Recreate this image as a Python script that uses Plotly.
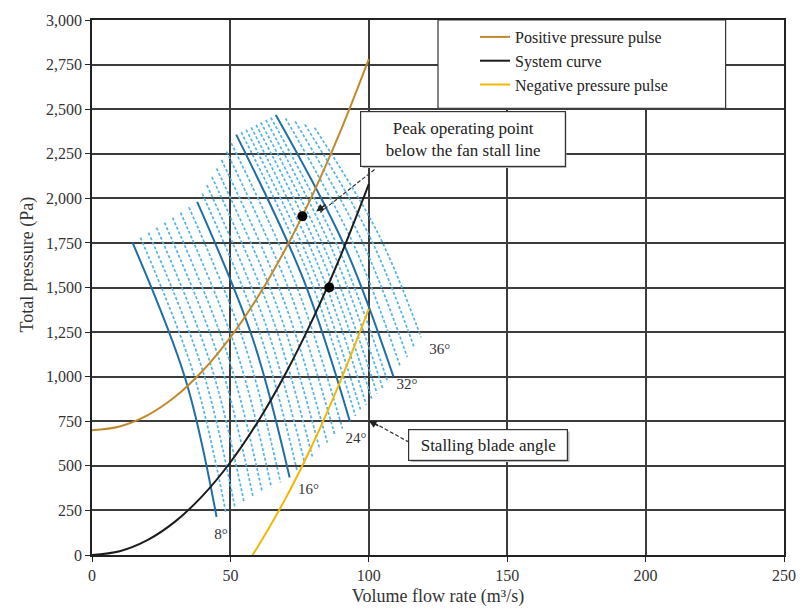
import plotly.graph_objects as go

# Volume flow rate (m³/s) and total pressure (Pa) along the three duct curves
flow_q = [0, 10, 20, 30, 40, 50, 60, 70, 80, 90, 100]
system_p = [0, 21, 83, 187, 333, 520, 749, 1019, 1331, 1685, 2080]
positive_p = [700, 721, 783, 887, 1033, 1220, 1449, 1719, 2031, 2385, 2780]
negative_q = [58, 60, 70, 80, 90, 100]
negative_p = [0, 49, 319, 631, 985, 1380]

# Operating points marked on the curves
point_q = [76.0, 85.7]
point_p = [1900, 1500]

# Fan characteristic per blade angle: stall-line end, middle, lower end
blade_angle = list(range(8, 37))
top_q = [14.6, 17.5, 20.4, 23.3, 26.2, 29.1, 32.0, 35.0, 38.0,
         39.8, 41.5, 43.3, 45.0, 46.8, 48.6, 50.3, 52.1,
         53.9, 55.7, 57.5, 59.3, 61.0, 62.8, 64.6, 66.4,
         69.9, 73.4, 76.9, 80.4]
top_p = [1753, 1780, 1808, 1836, 1864, 1892, 1920, 1950, 1980,
         2027, 2074, 2121, 2168, 2215, 2262, 2310, 2357,
         2371, 2385, 2398, 2412, 2426, 2440, 2453, 2467,
         2449, 2431, 2414, 2396]
mid_q = [33.8, 36.8, 39.9, 42.9, 46.0, 49.0, 52.1, 55.2, 58.2,
         60.5, 62.7, 65.0, 67.2, 69.4, 71.7, 73.9, 76.2,
         78.1, 79.9, 81.8, 83.7, 85.5, 87.4, 89.3, 91.2,
         94.2, 97.2, 100.2, 103.2]
mid_p = [984, 1011, 1039, 1067, 1094, 1122, 1150, 1179, 1207,
         1250, 1294, 1337, 1380, 1423, 1466, 1509, 1552,
         1575, 1598, 1620, 1643, 1666, 1689, 1711, 1734,
         1752, 1771, 1790, 1808]
bot_q = [45.0, 48.3, 51.6, 54.9, 58.2, 61.5, 64.8, 68.1, 71.4,
         74.1, 76.9, 79.6, 82.3, 85.0, 87.8, 90.5, 93.2,
         95.2, 97.1, 99.1, 101.1, 103.0, 105.0, 106.9, 108.9,
         111.4, 113.9, 116.4, 118.9]
bot_p = [214, 242, 269, 297, 324, 352, 379, 407, 434,
         473, 513, 552, 591, 630, 669, 708, 747,
         779, 810, 842, 874, 905, 937, 968, 1000,
         1055, 1110, 1165, 1220]
major_angles = [8, 16, 24, 32]

# Angle labels
angle_text = ["8°", "16°", "24°", "32°", "36°"]
angle_q = [46.6, 78.2, 95.4, 113.8, 125.6]
angle_p = [112, 365, 650, 950, 1150]

x_ticks = [0, 50, 100, 150, 200, 250]
y_ticks = [0, 250, 500, 750, 1000, 1250, 1500, 1750, 2000, 2250, 2500, 2750, 3000]

SERIF = "Liberation Serif, Times New Roman, serif"
LIGHT_BLUE = "#55B4E6"
DARK_BLUE = "#1E6FA6"

fig = go.Figure()

# Intermediate blade angles (dashed), then the highlighted ones on top
for i, ang in enumerate(blade_angle):
    if ang in major_angles:
        continue
    fig.add_trace(go.Scatter(
        x=[top_q[i], mid_q[i], bot_q[i]], y=[top_p[i], mid_p[i], bot_p[i]],
        mode="lines", line=dict(shape="spline", color=LIGHT_BLUE, width=1.7, dash="3px,2px"),
        showlegend=False, hoverinfo="skip"))
for i, ang in enumerate(blade_angle):
    if ang not in major_angles:
        continue
    fig.add_trace(go.Scatter(
        x=[top_q[i], mid_q[i], bot_q[i]], y=[top_p[i], mid_p[i], bot_p[i]],
        mode="lines", line=dict(shape="spline", color=DARK_BLUE, width=2),
        showlegend=False, hoverinfo="skip"))

fig.add_trace(go.Scatter(x=flow_q, y=positive_p, mode="lines", name="Positive pressure pulse",
                         line=dict(shape="spline", color="#C08A2C", width=2)))
fig.add_trace(go.Scatter(x=flow_q, y=system_p, mode="lines", name="System curve",
                         line=dict(shape="spline", color="#1c1c1c", width=2)))
fig.add_trace(go.Scatter(x=negative_q, y=negative_p, mode="lines", name="Negative pressure pulse",
                         line=dict(shape="spline", color="#F2B705", width=2)))

fig.add_trace(go.Scatter(x=point_q, y=point_p, mode="markers", showlegend=False,
                         marker=dict(color="#000000", size=10), hoverinfo="skip"))

fig.add_trace(go.Scatter(x=angle_q, y=angle_p, mode="text", text=angle_text, showlegend=False,
                         textfont=dict(family=SERIF, size=15, color="#333333"), hoverinfo="skip"))

shapes = [
    # legend frame
    dict(type="rect", xref="x", yref="y", x0=125.0, x1=228.9, y0=2505, y1=3000,
         fillcolor="white", line=dict(color="#333333", width=1.2), layer="above"),
    # callout shadows
    dict(type="rect", xref="x", yref="y", x0=97.8, x1=171.4, y0=2170, y1=2478,
         fillcolor="#b5b5b5", line=dict(width=0), layer="above"),
    dict(type="rect", xref="x", yref="y", x0=115.3, x1=172.5, y0=522, y1=692,
         fillcolor="#b5b5b5", line=dict(width=0), layer="above"),
    # callout leader lines
    dict(type="line", xref="x", yref="y", x0=102.1, y0=2162, x1=82.5, y1=1922,
         line=dict(color="#333333", width=1.2, dash="4px,2px"), layer="above"),
    dict(type="line", xref="x", yref="y", x0=114.6, y0=632, x1=101.5, y1=744,
         line=dict(color="#333333", width=1.2, dash="4px,2px"), layer="above"),
]

annotations = [
    dict(x=133.9, y=2335, xref="x", yref="y", showarrow=False,
         text="Peak operating point<br>below the fan stall line",
         font=dict(family=SERIF, size=17, color="#222222"),
         bgcolor="white", bordercolor="#333333", borderwidth=1.2,
         width=202, height=52, borderpad=1, align="center"),
    dict(x=143.2, y=618, xref="x", yref="y", showarrow=False,
         text="Stalling blade angle",
         font=dict(family=SERIF, size=17, color="#222222"),
         bgcolor="white", bordercolor="#333333", borderwidth=1.2,
         width=156, height=28, borderpad=1, align="center"),
    dict(x=81.0, y=1926, xref="x", yref="y", text="", showarrow=True,
         ax=11, ay=-8, arrowhead=2, arrowsize=1.1, arrowwidth=1.4, arrowcolor="#222222"),
    dict(x=100.0, y=753, xref="x", yref="y", text="", showarrow=True,
         ax=11, ay=6, arrowhead=2, arrowsize=1.1, arrowwidth=1.4, arrowcolor="#222222"),
    # vertical axis title
    dict(x=(14 - 92) / 701, y=1 - (263 - 13) / 546, xref="paper", yref="paper",
         text="Total pressure (Pa)", textangle=-90, showarrow=False,
         font=dict(family=SERIF, size=18, color="#333333")),
]

axis_common = dict(
    showgrid=True, gridcolor="#3c3c3c", gridwidth=1.5,
    showline=True, linecolor="#222222", linewidth=1.8, mirror=True,
    ticks="outside", ticklen=5, tickcolor="#222222", tickwidth=1.3,
    zeroline=False,
    tickfont=dict(family=SERIF, size=16, color="#333333"),
)

fig.update_layout(
    width=808, height=615,
    margin=dict(l=92, r=15, t=13, b=56),
    paper_bgcolor="white", plot_bgcolor="white",
    font=dict(family=SERIF, color="#333333"),
    xaxis=dict(range=[0, 250], tickvals=x_ticks,
               title=dict(text="Volume flow rate (m³/s)", font=dict(family=SERIF, size=18, color="#333333"),
                          standoff=6),
               **axis_common),
    yaxis=dict(range=[0, 3000], tickvals=y_ticks, tickformat=",d", **axis_common),
    showlegend=True,
    legend=dict(x=(480 - 92) / 701, y=1.0, xanchor="left", yanchor="top",
                bgcolor="rgba(0,0,0,0)", borderwidth=0,
                font=dict(family=SERIF, size=16, color="#222222"),
                tracegroupgap=0, itemwidth=30),
    shapes=shapes,
    annotations=annotations,
)

fig.write_html("out.html")
